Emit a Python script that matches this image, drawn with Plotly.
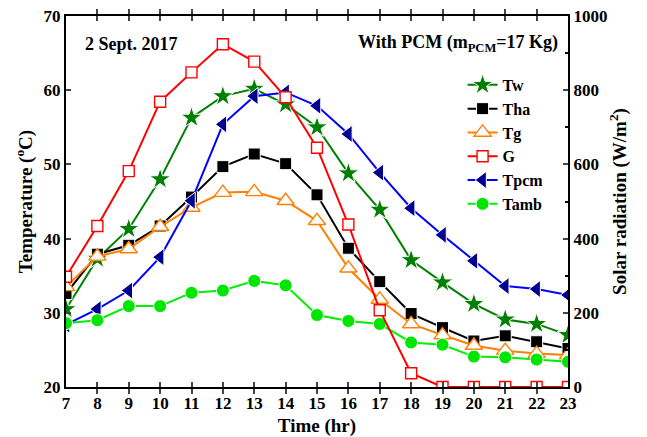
import plotly.graph_objects as go

hours = list(range(7, 24))
Tw   = [30.5, 37.3, 41.3, 48.0, 56.3, 59.2, 60.2, 58.1, 55.0, 48.8, 43.9, 37.1, 34.1, 31.2, 29.1, 28.5, 27.0]
Tha  = [32.6, 37.9, 39.1, 41.7, 45.6, 49.7, 51.4, 50.1, 45.9, 38.7, 34.2, 29.9, 28.0, 26.2, 26.9, 26.1, 25.2]
Tg   = [33.5, 37.6, 38.6, 41.6, 44.2, 46.2, 46.3, 45.1, 42.4, 36.0, 31.8, 28.5, 27.0, 25.6, 24.9, 24.5, 24.3]
G    = [297, 434, 582, 769, 848, 924, 877, 781, 645, 438, 207, 37, 0, 0, 0, 0, 0]
Tpcm = [28.4, 30.5, 33.0, 37.5, 45.1, 55.4, 59.2, 59.7, 57.9, 54.1, 48.9, 44.1, 40.5, 37.0, 33.6, 33.2, 32.4]
Tamb = [28.6, 29.0, 30.9, 30.9, 32.7, 33.0, 34.3, 33.7, 29.7, 28.9, 28.5, 26.0, 25.7, 24.1, 24.0, 23.7, 23.4]

FONT = "Liberation Serif"
fig = go.Figure()

def add(name, y, color, symbol, size, mcolor=None, filled=True, axis="y"):
    mc = mcolor or color
    marker = dict(symbol=symbol, size=size,
                  color=mc if filled else "white",
                  line=dict(color="white" if filled else mc, width=1 if filled else 1.4))
    fig.add_trace(go.Scatter(x=hours, y=y, name=name, mode="lines+markers",
                             line=dict(color=color, width=2), marker=marker, yaxis=axis))

add("Tw", Tw, "#008000", "star", 16)
add("Tha", Tha, "black", "square", 12)
add("Tg", Tg, "#FF8000", "triangle-up", 15, filled=False)
add("G", G, "#FF0000", "square", 11, filled=False, axis="y2")
add("Tpcm", Tpcm, "#0000FF", "triangle-left", 15, mcolor="#000090")
add("Tamb", Tamb, "#00F000", "circle", 13, mcolor="#00E600")

tickfont = dict(family=FONT, size=17, color="black", weight="bold")
titlefont = dict(family=FONT, size=19, color="black", weight="bold")

fig.update_layout(
    width=647, height=437,
    margin=dict(l=66, r=79, t=16, b=50, autoexpand=False),
    plot_bgcolor="white", paper_bgcolor="white",
    showlegend=True,
    legend=dict(x=0.79, y=0.86, xanchor="left", yanchor="top",
                font=dict(family=FONT, size=16, color="black", weight="bold"),
                bgcolor="rgba(0,0,0,0)", itemwidth=30, tracegroupgap=0),
    xaxis=dict(range=[7, 23], tickvals=hours, ticks="inside", ticklen=5, tickwidth=2,
               showline=True, linecolor="black", linewidth=2, mirror="allticks",
               showgrid=False, zeroline=False, tickfont=tickfont, automargin=False,
               title=dict(text="Time (hr)", font=titlefont, standoff=6)),
    yaxis=dict(range=[20, 70], tickvals=[20, 30, 40, 50, 60, 70], ticks="inside", ticklen=5,
               tickwidth=2, showline=True, linecolor="black", linewidth=2,
               showgrid=False, zeroline=False, tickfont=tickfont, automargin=False,
               title=dict(text="Temperature (<sup>o</sup>C)", font=titlefont, standoff=6)),
    yaxis2=dict(range=[0, 1000], tickvals=[0, 200, 400, 600, 800, 1000], ticks="inside",
                ticklen=5, tickwidth=2, overlaying="y", side="right", anchor="x",
                showline=True, linecolor="black", linewidth=2, automargin=False,
                minor=dict(tickvals=[100, 300, 500, 700, 900], ticks="inside", ticklen=3,
                           tickwidth=1.5, tickcolor="black"),
                showgrid=False, zeroline=False, tickfont=tickfont,
                title=dict(text="Solar radiation (W/m<sup>2</sup>)", font=titlefont, standoff=6)),
    annotations=[
        dict(text="2 Sept. 2017", x=0.033, y=0.925, xref="paper", yref="paper",
             xanchor="left", yanchor="middle", showarrow=False,
             font=dict(family=FONT, size=18, color="black", weight="bold")),
        dict(text="With PCM (m<sub>PCM</sub>=17 Kg)", x=0.985, y=0.925, xref="paper", yref="paper",
             xanchor="right", yanchor="middle", showarrow=False,
             font=dict(family=FONT, size=18, color="black", weight="bold")),
    ],
)

fig.write_html("out.html")
